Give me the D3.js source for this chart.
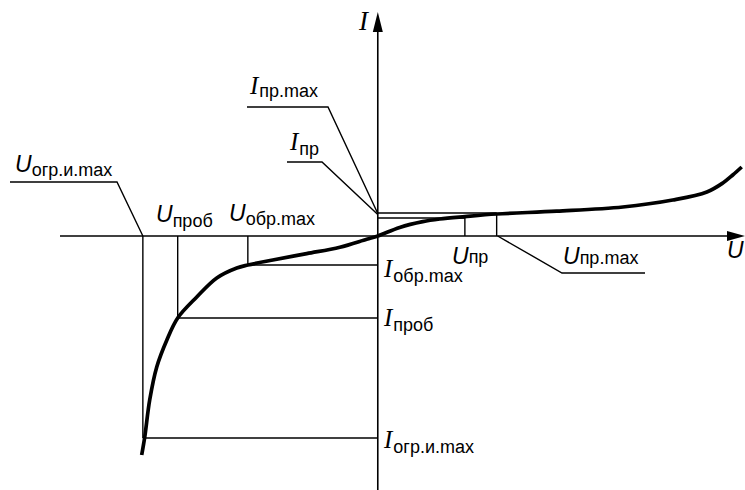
<!DOCTYPE html>
<html><head><meta charset="utf-8">
<script src="https://cdn.jsdelivr.net/npm/d3@7"></script>
<style>
html,body{margin:0;padding:0;background:#fff;}
svg{display:block;}
</style></head>
<body>
<svg id="c" width="745" height="490"></svg>
<script>
// Characteristic curve I(U) (arbitrary units)
const curveU = [-10.03,-9.9,-9.69,-9.39,-8.96,-8.5,-7.69,-6.84,-5.99,-5.52,-4.46,-3.02,-1.61,-0.47,0,0.93,1.91,2.63,3.7,5.05,7.6,10.41,12.53,13.98,14.66,15.08,15.46];
const curveI = [-109.5,-100.5,-82,-65.5,-52,-41,-30.5,-21,-16,-14.5,-12,-8.8,-5.6,-1.6,0,4.3,7.2,8.5,9.7,11,12.4,14.5,18,22,26.5,30.5,34.5];

// Characteristic points
const pointNames = ["огр.и.max","проб","обр.max","пр","пр.max"];
const pointU = [-9.98,-8.5,-5.52,3.7,5.05];
const pointI = [-101,-41,-14.5,9,11.5];

const x = d3.scaleLinear().domain([-13.5, 15.6]).range([60, 745]);
const y = d3.scaleLinear().domain([-127, 112]).range([490, 12]);

const svg = d3.select("#c");
const ink = "#000";
const thin = 1.4;

// axes
svg.append("line").attr("x1", x(-13.5)).attr("x2", x(15.6) - 14).attr("y1", y(0)).attr("y2", y(0))
  .attr("stroke", ink).attr("stroke-width", 1.6);
svg.append("line").attr("x1", x(0)).attr("x2", x(0)).attr("y1", y(-127)).attr("y2", y(112) + 16)
  .attr("stroke", ink).attr("stroke-width", 1.6);
// arrowheads
svg.append("path").attr("d", `M${x(15.6)},${y(0)} L${x(15.6)-18},${y(0)-5} L${x(15.6)-18},${y(0)+5} Z`).attr("fill", ink);
svg.append("path").attr("d", `M${x(0)},${y(112)} L${x(0)-5},${y(112)+20} L${x(0)+5},${y(112)+20} Z`).attr("fill", ink);

// reference lines
const g = svg.append("g").attr("stroke", ink).attr("stroke-width", thin).attr("fill", "none");
pointU.forEach((u, i) => {
  g.append("line").attr("x1", x(u)).attr("x2", x(u)).attr("y1", y(0)).attr("y2", y(pointI[i]));
  g.append("line").attr("x1", x(u)).attr("x2", x(0)).attr("y1", y(pointI[i])).attr("y2", y(pointI[i]));
});

// leader lines (from label underline to point)
const leader = (pts) => g.append("path").attr("d", d3.line()(pts));
leader([[10, 182], [117, 182], [x(pointU[0]), y(0)]]);
leader([[247, 107], [328, 107], [x(0), y(pointI[4]) + 0.5]]);
leader([[287, 162], [322, 162], [x(0), y(pointI[4]) + 1.5]]);
leader([[x(pointU[4]) + 1, y(0)], [562, 273], [645, 273]]);

// curve
const data = curveU.map((u, i) => [u, curveI[i]]);
svg.append("path").datum(data)
  .attr("d", d3.line().x(d => x(d[0])).y(d => y(d[1])).curve(d3.curveCatmullRom.alpha(0.5)))
  .attr("fill", "none").attr("stroke", ink).attr("stroke-width", 3.7).attr("stroke-linecap", "butt");

// labels
const sans = "'Liberation Sans', Arial, sans-serif";
const serif = "'Liberation Serif', 'Times New Roman', serif";
function label(main, sub, px, py, isI, subDy) {
  const t = svg.append("text").attr("x", px).attr("y", py).attr("fill", ink);
  t.append("tspan").text(main)
    .attr("font-family", isI ? serif : sans).attr("font-style", "italic")
    .attr("font-size", isI ? 25 : 23);
  if (sub) {
    t.append("tspan").text(sub).attr("font-family", sans).attr("font-size", 18)
      .attr("dx", isI ? 1 : 0).attr("dy", subDy);
  }
}
label("U", pointNames[0], 15, 172, false, 4);
label("U", pointNames[1], 156, 222, false, 5);
label("U", pointNames[2], 229, 221, false, 4);
label("U", pointNames[3], 452, 264, false, -1);
label("U", pointNames[4], 563, 264, false, 0);
label("I", pointNames[4], 250, 94, true, 3);
label("I", pointNames[3], 290, 150, true, 5);
label("I", pointNames[2], 384, 277, true, 5);
label("I", pointNames[1], 384, 326, true, 5);
label("I", pointNames[0], 384, 448, true, 5);
label("U", null, 727, 258, false, 0);
svg.append("text").attr("x", 359).attr("y", 30).text("I").attr("font-family", serif)
  .attr("font-style", "italic").attr("font-size", 27).attr("fill", ink);
</script>
</body></html>
